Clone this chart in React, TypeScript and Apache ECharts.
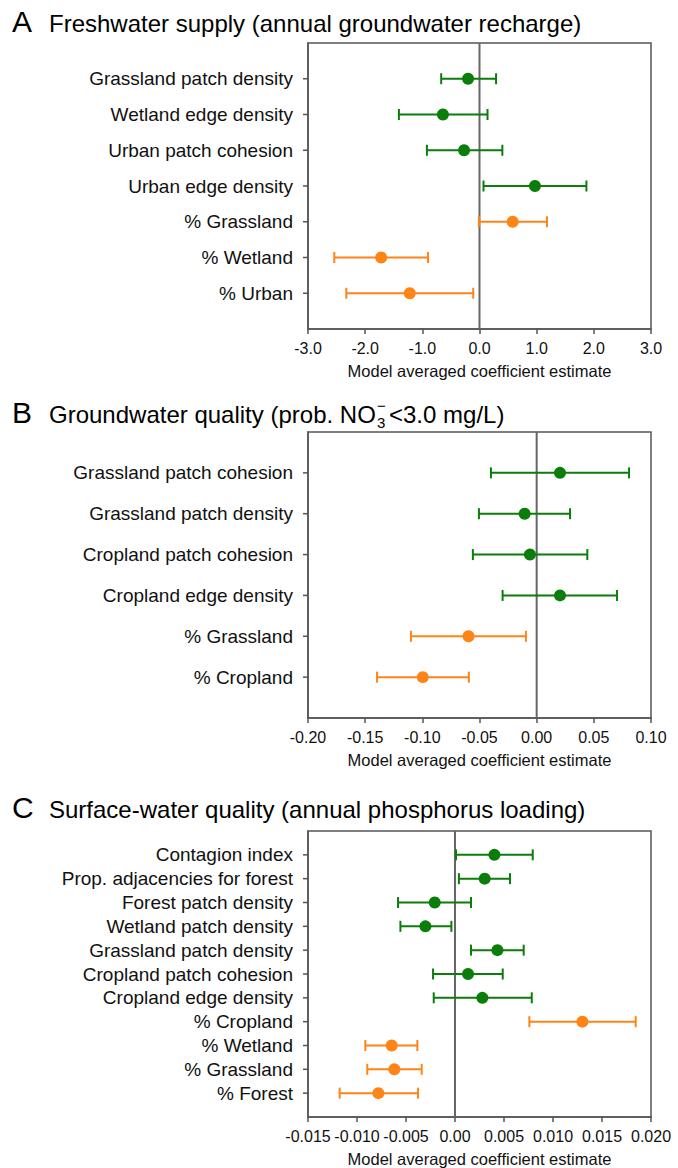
import React, { useEffect, useRef } from "react";
import * as echarts from "echarts";

const FONT = "'Liberation Sans', Arial, Helvetica, sans-serif";
const GREEN = "#0a7d0a";
const ORANGE = "#ff8417";
const AXIS_COLOR = "#555555";
const TEXT_COLOR = "#111111";

// ---------- Panel A: Freshwater supply ----------
const aLabels = [
  "Grassland patch density",
  "Wetland edge density",
  "Urban patch cohesion",
  "Urban edge density",
  "% Grassland",
  "% Wetland",
  "% Urban",
];
const aEstimate = [-0.2, -0.64, -0.27, 0.97, 0.58, -1.72, -1.22];
const aLower = [-0.67, -1.41, -0.92, 0.07, -0.01, -2.54, -2.33];
const aUpper = [0.29, 0.14, 0.4, 1.87, 1.18, -0.9, -0.11];
const aGroup = ["config", "config", "config", "config", "comp", "comp", "comp"];
const aTicks = [-3, -2, -1, 0, 1, 2, 3];

// ---------- Panel B: Groundwater quality ----------
const bLabels = [
  "Grassland patch cohesion",
  "Grassland patch density",
  "Cropland patch cohesion",
  "Cropland edge density",
  "% Grassland",
  "% Cropland",
];
const bEstimate = [0.0204, -0.0105, -0.0059, 0.0204, -0.0596, -0.0996];
const bLower = [-0.04, -0.0505, -0.0558, -0.0298, -0.11, -0.1396];
const bUpper = [0.0808, 0.0292, 0.0443, 0.0703, -0.0094, -0.0593];
const bGroup = ["config", "config", "config", "config", "comp", "comp"];
const bTicks = [-0.2, -0.15, -0.1, -0.05, 0, 0.05, 0.1];

// ---------- Panel C: Surface-water quality ----------
const cLabels = [
  "Contagion index",
  "Prop. adjacencies for forest",
  "Forest patch density",
  "Wetland patch density",
  "Grassland patch density",
  "Cropland patch cohesion",
  "Cropland edge density",
  "% Cropland",
  "% Wetland",
  "% Grassland",
  "% Forest",
];
const cEstimate = [0.00402, 0.00303, -0.00207, -0.00302, 0.00433, 0.00133, 0.00279, 0.013, -0.00646, -0.00619, -0.00782];
const cLower = [0.0001, 0.0004, -0.00581, -0.00557, 0.00163, -0.00224, -0.00217, 0.00759, -0.00915, -0.00895, -0.01177];
const cUpper = [0.00793, 0.00561, 0.00163, -0.00037, 0.00701, 0.00487, 0.00783, 0.01844, -0.00384, -0.0034, -0.00377];
const cGroup = ["config", "config", "config", "config", "config", "config", "config", "comp", "comp", "comp", "comp"];
const cTicks = [-0.015, -0.01, -0.005, 0, 0.005, 0.01, 0.015, 0.02];

const X_NAME = "Model averaged coefficient estimate";

type Panel = {
  labels: string[];
  est: number[];
  lo: number[];
  hi: number[];
  group: string[];
  ticks: number[];
  fmt: (v: number) => string;
  grid: { left: number; top: number; width: number; height: number };
};

const panels: Panel[] = [
  {
    labels: aLabels, est: aEstimate, lo: aLower, hi: aUpper, group: aGroup, ticks: aTicks,
    fmt: (v) => v.toFixed(1),
    grid: { left: 308, top: 43, width: 343, height: 286 },
  },
  {
    labels: bLabels, est: bEstimate, lo: bLower, hi: bUpper, group: bGroup, ticks: bTicks,
    fmt: (v) => v.toFixed(2),
    grid: { left: 308, top: 432, width: 343, height: 286 },
  },
  {
    labels: cLabels, est: cEstimate, lo: cLower, hi: cUpper, group: cGroup, ticks: cTicks,
    fmt: (v) => (Math.abs(v) < 1e-9 ? "0.00" : v.toFixed(3)),
    grid: { left: 308, top: 831, width: 343, height: 286 },
  },
];

const colorOf = (g: string) => (g === "comp" ? ORANGE : GREEN);

function buildOption(): any {
  const grids: any[] = [];
  const xAxes: any[] = [];
  const yAxes: any[] = [];
  const series: any[] = [];

  panels.forEach((p, pi) => {
    const n = p.labels.length;
    grids.push({
      ...p.grid,
      show: true,
      borderColor: AXIS_COLOR,
      borderWidth: 1.5,
      backgroundColor: "transparent",
      containLabel: false,
    });
    xAxes.push({
      gridIndex: pi,
      type: "value",
      min: p.ticks[0],
      max: p.ticks[p.ticks.length - 1],
      interval: p.ticks[1] - p.ticks[0],
      splitLine: { show: false },
      axisLine: { show: true, onZero: false, lineStyle: { color: AXIS_COLOR, width: 1.5 } },
      axisTick: { show: true, inside: false, length: 5, lineStyle: { color: AXIS_COLOR, width: 1.5 } },
      axisLabel: {
        fontSize: 16,
        fontFamily: FONT,
        color: TEXT_COLOR,
        margin: 11,
        formatter: (v: number) => p.fmt(v),
        showMinLabel: true,
        showMaxLabel: true,
      },
      name: X_NAME,
      nameLocation: "middle",
      nameGap: 33,
      nameTextStyle: { fontSize: 16.5, fontFamily: FONT, color: TEXT_COLOR },
    });
    yAxes.push({
      gridIndex: pi,
      type: "value",
      min: 0,
      max: n + 1,
      interval: 1,
      inverse: true,
      axisLine: { show: true, onZero: false, lineStyle: { color: AXIS_COLOR, width: 1.5 } },
      axisTick: { show: false },
      axisLabel: {
        fontSize: 19,
        fontFamily: FONT,
        color: TEXT_COLOR,
        margin: 15,
        formatter: (v: number) => {
          const k = Math.round(v);
          return k >= 1 && k <= n ? p.labels[k - 1] : "";
        },
      },
      splitLine: { show: false },
    });

    const colors = p.group.map(colorOf);

    series.push({
      type: "custom",
      xAxisIndex: pi,
      yAxisIndex: pi,
      encode: { x: [0, 1], y: 2 },
      data: p.lo.map((l, i) => [l, p.hi[i], i + 1]),
      z: 2,
      renderItem: (params: any, api: any) => {
        const lo = api.value(0);
        const hi = api.value(1);
        const idx = api.value(2);
        const p1 = api.coord([lo, idx]);
        const p2 = api.coord([hi, idx]);
        const cs = params.coordSys;
        const color = colors[params.dataIndex];
        const h = 5.5;
        const style = { stroke: color, lineWidth: 2, fill: "none" };
        const axisStyle = { stroke: AXIS_COLOR, lineWidth: 1.5, fill: "none" };
        const children: any[] = [];
        if (params.dataIndex === 0) {
          const z0 = api.coord([0, 0])[0];
          children.push({
            type: "line",
            shape: { x1: z0, y1: cs.y, x2: z0, y2: cs.y + cs.height },
            style: { stroke: "#666666", lineWidth: 2, fill: "none" },
          });
        }
        children.push(
          { type: "line", shape: { x1: cs.x - 5, y1: p1[1], x2: cs.x, y2: p1[1] }, style: axisStyle },
          { type: "line", shape: { x1: p1[0], y1: p1[1], x2: p2[0], y2: p2[1] }, style },
          { type: "line", shape: { x1: p1[0], y1: p1[1] - h, x2: p1[0], y2: p1[1] + h }, style },
          { type: "line", shape: { x1: p2[0], y1: p2[1] - h, x2: p2[0], y2: p2[1] + h }, style }
        );
        return { type: "group", children };
      },
    });

    series.push({
      type: "scatter",
      xAxisIndex: pi,
      yAxisIndex: pi,
      symbol: "circle",
      symbolSize: 12,
      z: 3,
      data: p.est.map((v, i) => ({ value: [v, i + 1], itemStyle: { color: colors[i], opacity: 1 } })),
    });
  });

  const titleText = (x: number, y: number, text: string, size: number) => ({
    type: "text",
    x,
    y,
    style: {
      text,
      fontSize: size,
      fontFamily: FONT,
      fill: "#000000",
      verticalAlign: "middle",
      align: "left",
    },
  });

  const graphic = [
    titleText(12, 21.6, "A", 30),
    titleText(49, 23.7, "Freshwater supply (annual groundwater recharge)", 24),
    titleText(12, 412.6, "B", 30),
    titleText(49, 414.7, "Groundwater quality (prob. NO", 24),
    titleText(377, 422.5, "3", 15),
    titleText(377, 405, "\u2212", 15),
    titleText(389, 414.7, "<3.0 mg/L)", 24),
    titleText(12, 807.6, "C", 30),
    titleText(49, 809.7, "Surface-water quality (annual phosphorus loading)", 24),
  ];

  return {
    animation: false,
    backgroundColor: "#ffffff",
    grid: grids,
    xAxis: xAxes,
    yAxis: yAxes,
    series,
    graphic,
  };
}

export default function App() {
  const ref = useRef<HTMLDivElement>(null);
  useEffect(() => {
    document.body.style.margin = "0";
    if (!ref.current) return;
    const chart = echarts.init(ref.current, undefined, { renderer: "svg" });
    chart.setOption(buildOption());
    return () => {
      chart.dispose();
    };
  }, []);
  return <div ref={ref} style={{ width: 678, height: 1168 }} />;
}
